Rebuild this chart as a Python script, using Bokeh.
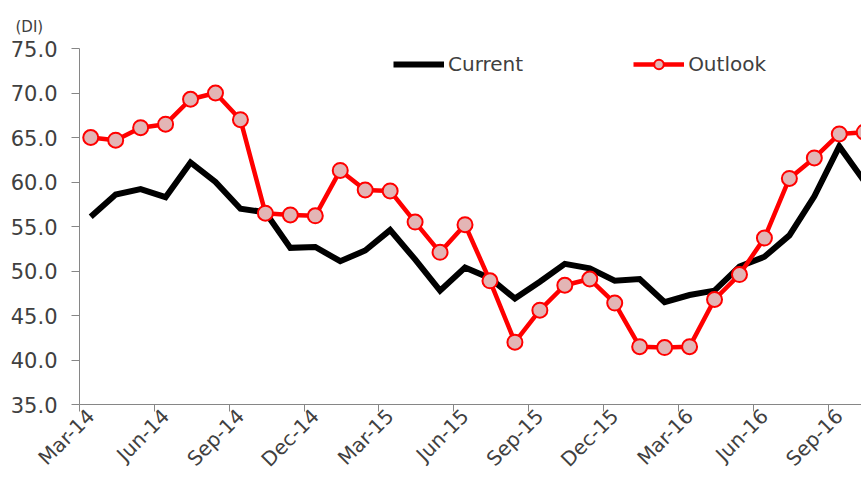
import numpy as np
import pandas as pd
from math import pi
from bokeh.plotting import figure
from bokeh.models import (FixedTicker, NumeralTickFormatter, Legend, LegendItem,
                          Range1d, ColumnDataSource, LinearAxis)
from bokeh.embed import file_html
from bokeh.resources import INLINE

# ---- data ----
months = list(pd.date_range("2014-03-01", periods=32, freq="MS").strftime("%b-%y"))
current = [56.1, 58.6, 59.2, 58.3, 62.2, 60.0, 57.0, 56.6, 52.6, 52.7, 51.1, 52.3,
           54.6, 51.3, 47.8, 50.4, 49.2, 46.9, 48.8, 50.8, 50.3, 48.9, 49.1, 46.5,
           47.3, 47.8, 50.5, 51.6, 54.0, 58.4, 64.0, 60.1]
outlook = [65.0, 64.7, 66.1, 66.5, 69.3, 70.0, 67.0, 56.5, 56.3, 56.2, 61.3, 59.1,
           59.0, 55.5, 52.1, 55.2, 48.9, 42.0, 45.6, 48.4, 49.1, 46.4, 41.5, 41.4,
           41.5, 46.8, 49.6, 53.7, 60.4, 62.7, 65.4, 65.6]
y_ticks = [35, 40, 45, 50, 55, 60, 65, 70, 75]
tick_idx = list(range(0, 31, 3))

x = np.arange(len(months)) + 0.45
src = ColumnDataSource(dict(x=x, current=current, outlook=outlook))

FONT = "DejaVu Sans"
TXT = "#404040"
AXC = "#868686"

p = figure(width=861, height=482, x_range=Range1d(0, 31.34), y_range=Range1d(35, 75),
           output_backend="svg", toolbar_location=None,
           min_border_left=79, min_border_right=0, min_border_top=48, min_border_bottom=78)
p.outline_line_color = None
p.xgrid.visible = False
p.ygrid.visible = False

p.title.text = "(DI)"
p.title.align = "left"
p.title.offset = -64
p.title.standoff = 26
p.title.text_font = FONT
p.title.text_font_size = "15px"
p.title.text_font_style = "normal"
p.title.text_color = TXT

cur = p.line("x", "current", source=src, line_color="black", line_width=6, line_join="miter")
out_line = p.line("x", "outlook", source=src, line_color="#FF0000", line_width=4.5, line_join="round")
out_pts = p.scatter("x", "outlook", source=src, size=15, marker="circle",
                    fill_color="#E3B5B5", line_color="#FF0000", line_width=2)

# y axis
ya = p.yaxis[0]
ya.ticker = FixedTicker(ticks=y_ticks)
ya.formatter = NumeralTickFormatter(format="0.0")
ya.axis_line_color = AXC
ya.major_tick_line_color = AXC
ya.minor_tick_line_color = None
ya.major_tick_out = 8
ya.major_tick_in = 0
ya.major_label_standoff = 14
ya.major_label_text_font = FONT
ya.major_label_text_font_size = "21px"
ya.major_label_text_color = TXT

# x axis: tick marks only
xa = p.xaxis[0]
xa.ticker = FixedTicker(ticks=tick_idx)
xa.major_label_overrides = {i: "" for i in tick_idx}
xa.axis_line_color = AXC
xa.major_tick_line_color = AXC
xa.minor_tick_line_color = None
xa.major_tick_out = 7
xa.major_tick_in = 0
xa.major_label_standoff = 0
xa.major_label_text_font_size = "1px"

# x axis labels (shifted like the reference's rotated labels)
label_pos = [i + 0.45 for i in tick_idx]
xb = LinearAxis(ticker=FixedTicker(ticks=label_pos),
                major_label_overrides={lp: months[i] for lp, i in zip(label_pos, tick_idx)},
                axis_line_color=None, major_tick_line_color=None, minor_tick_line_color=None,
                major_tick_out=0, major_tick_in=0, major_label_standoff=1,
                major_label_orientation=pi / 4,
                major_label_text_font=FONT, major_label_text_font_size="20px",
                major_label_text_color=TXT)
p.add_layout(xb, "below")

legend = Legend(items=[LegendItem(label="Current", renderers=[cur]),
                       LegendItem(label="Outlook", renderers=[out_line, out_pts])],
                orientation="horizontal", location=(314, 328),
                glyph_width=51, glyph_height=24, label_standoff=4, spacing=110,
                padding=0, margin=0, border_line_color=None, background_fill_alpha=0,
                label_text_font=FONT, label_text_font_size="20px", label_text_color=TXT)
p.add_layout(legend)

open("out.html", "w").write(file_html(p, INLINE))
